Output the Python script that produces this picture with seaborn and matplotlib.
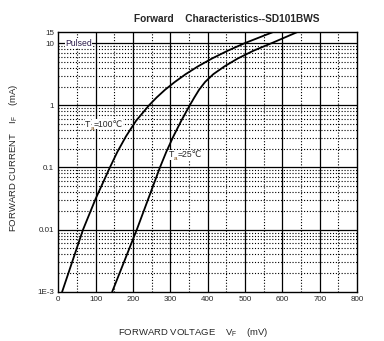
import matplotlib
matplotlib.use("Agg")
import matplotlib.pyplot as plt
import matplotlib.ticker as mticker
from matplotlib.transforms import offset_copy
import seaborn as sns
import pandas as pd

# Data (forward voltage in mV, current in mA)
i_pts = [0.001, 0.00316, 0.01, 0.0316, 0.1, 0.178, 0.316, 0.562, 1.0, 1.33, 1.78,
         2.37, 3.16, 4.22, 5.62, 7.5, 10.0, 15.0]
v_100 = [10, 38, 66, 100, 138, 158, 181, 208, 243, 263, 286, 312, 341, 374, 411,
         453, 500, 575]
v_25 = [144, 177, 210, 241, 272, 289, 308, 329, 352, 364, 377, 393, 415, 445, 480,
        522, 572, 640]

x_ticks = [0, 100, 200, 300, 400, 500, 600, 700, 800]
y_ticks = [0.001, 0.01, 0.1, 1, 10, 15]
y_tick_labels = ["1E-3", "0.01", "0.1", "1", "10", "15"]

df = pd.concat([
    pd.DataFrame({"V": v_100, "I": i_pts, "T": "100"}),
    pd.DataFrame({"V": v_25, "I": i_pts, "T": "25"}),
], ignore_index=True)

sns.set_style("white")
plt.rcParams['font.family'] = ['Liberation Sans', 'DejaVu Sans']
plt.rcParams['mathtext.fontset'] = 'custom'
plt.rcParams['mathtext.rm'] = 'Liberation Sans'
plt.rcParams['mathtext.it'] = 'Liberation Sans'
plt.rcParams['mathtext.default'] = 'regular'

fig = plt.figure(figsize=(3.84, 3.41), dpi=100)
ax = fig.add_axes([0.152, 0.144, 0.778, 0.762])

# grid
for xv in range(50, 800, 100):
    ax.axvline(xv, color="black", lw=0.8, ls=(0, (1, 1.6)), zorder=1)
for xv in range(100, 800, 100):
    ax.axvline(xv, color="black", lw=0.9, zorder=1)
for dec in [0.001, 0.01, 0.1, 1]:
    for m in range(2, 10):
        ax.axhline(dec * m, color="black", lw=0.8, ls=(0, (1, 1.6)), zorder=1)
for yv in [0.01, 0.1, 1, 10]:
    ax.axhline(yv, color="black", lw=0.9, zorder=1)

sns.lineplot(data=df, x="V", y="I", hue="T", palette={"100": "black", "25": "black"},
             sort=False, estimator=None, lw=1.3, legend=False, ax=ax, zorder=3,
             solid_joinstyle="round")

ax.set_yscale("log")
ax.set_xlim(0, 800)
ax.set_ylim(0.001, 15)
ax.set_xticks(x_ticks)
ax.set_xticklabels([str(t) for t in x_ticks])
ax.set_yticks(y_ticks)
ax.set_yticklabels(y_tick_labels)
ax.yaxis.set_minor_locator(mticker.NullLocator())
ax.tick_params(axis="both", length=0, labelsize=5.8, pad=3)

for s in ax.spines.values():
    s.set_visible(True)
    s.set_color("black")
    s.set_linewidth(1.0)

ax.set_xlabel("FORWARD VOLTAGE    V$_F$    (mV)", fontsize=6.8)
ax.set_ylabel("FORWARD CURRENT    I$_F$    (mA)", fontsize=6.8)
ax.xaxis.set_label_coords(0.45, -0.13)
ax.yaxis.set_label_coords(-0.129, 0.515)

box = dict(facecolor="white", edgecolor="none", pad=0.3)
ax.text(18, 10, "Pulsed", fontsize=6.2, color="#2a1a4a", va="center", ha="left",
        bbox=box, zorder=2)


def temp_label(x, y, rest):
    ax.text(x, y, "T", fontsize=6.4, va="baseline", ha="left", bbox=box, zorder=2)
    ax.text(x, y, rest, fontsize=6.2, va="baseline", ha="left", bbox=box, zorder=2,
            transform=offset_copy(ax.transData, fig=fig, x=6.2, y=0, units="points"))
    ax.text(x, y, "a", fontsize=4.6, va="baseline", ha="left", zorder=2.5,
            color="#7a4a10",
            transform=offset_copy(ax.transData, fig=fig, x=3.6, y=-2.2, units="points"))


temp_label(72, 0.45, "=100\u2103")
temp_label(296, 0.145, "=25\u2103")

fig.text(0.59, 0.945, "Forward    Characteristics--SD101BWS", fontsize=7.3,
         fontweight="bold", ha="center", va="center")

fig.savefig("out.png", dpi=100)
